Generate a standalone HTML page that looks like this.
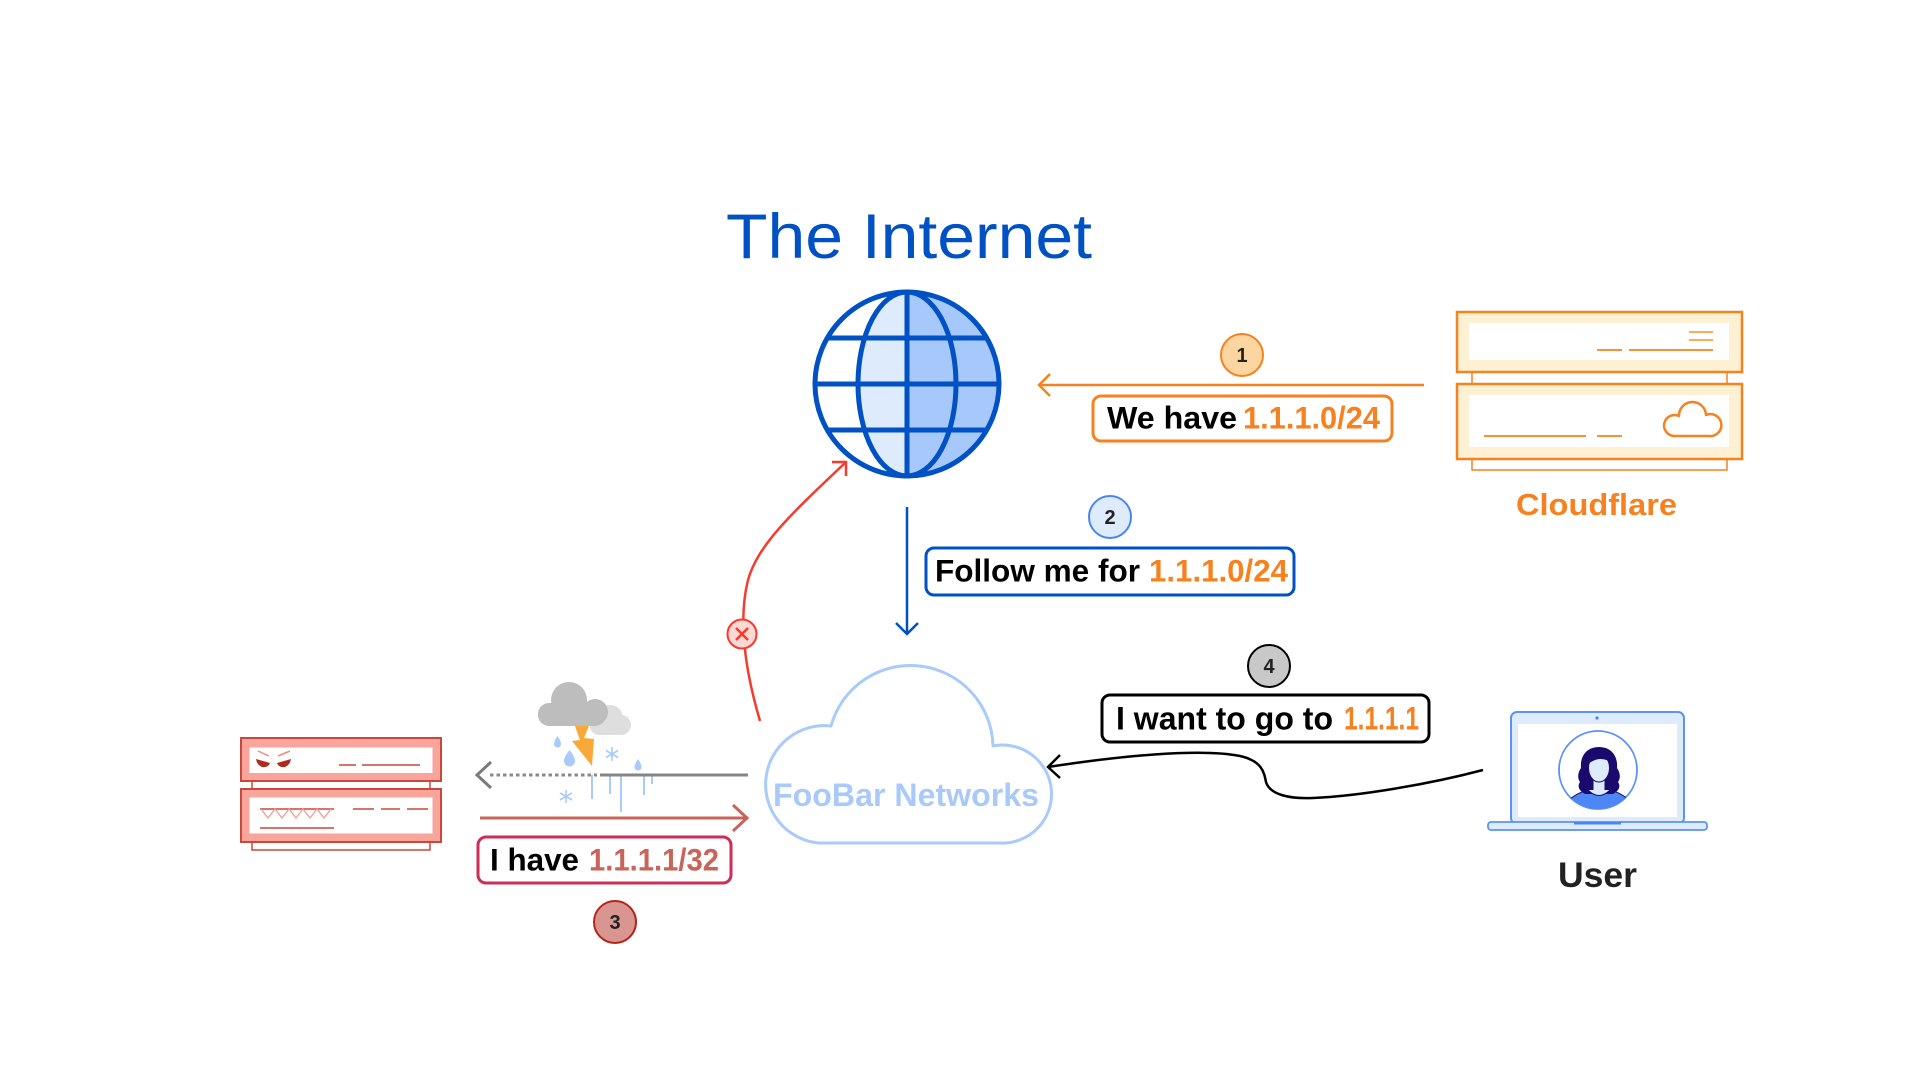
<!DOCTYPE html>
<html><head><meta charset="utf-8"><style>
html,body{margin:0;padding:0;background:#fff;}
svg{display:block;}
text{font-family:"Liberation Sans",Arial,sans-serif;}
</style></head><body>
<svg width="1920" height="1080" viewBox="0 0 1920 1080" xmlns="http://www.w3.org/2000/svg">
<rect width="1920" height="1080" fill="#fff"/>
<defs>
<clipPath id="gc"><circle cx="907" cy="384" r="92"/></clipPath>
<clipPath id="av"><circle cx="1598" cy="770" r="39"/></clipPath>
</defs>

<!-- Title -->
<text x="726" y="258" font-size="63" fill="#0051C3" textLength="366" lengthAdjust="spacingAndGlyphs">The Internet</text>

<!-- Globe -->
<g clip-path="url(#gc)">
<rect x="907" y="290" width="100" height="190" fill="#A6C8FB"/>
<path d="M907,292 A49,92 0 0 0 907,476 Z" fill="#DDEBFD"/>
<line x1="800" y1="338" x2="1010" y2="338" stroke="#0051C3" stroke-width="5"/>
<line x1="800" y1="384" x2="1010" y2="384" stroke="#0051C3" stroke-width="5"/>
<line x1="800" y1="430" x2="1010" y2="430" stroke="#0051C3" stroke-width="5"/>
</g>
<ellipse cx="907" cy="384" rx="49" ry="92" fill="none" stroke="#0051C3" stroke-width="5"/>
<line x1="907" y1="292" x2="907" y2="476" stroke="#0051C3" stroke-width="5"/>
<circle cx="907" cy="384" r="92" fill="none" stroke="#0051C3" stroke-width="5"/>

<!-- Arrow 1 (orange) -->
<line x1="1424" y1="385" x2="1039" y2="385" stroke="#F6821F" stroke-width="2.5"/>
<polyline points="1050,374 1039,385 1050,396" fill="none" stroke="#F6821F" stroke-width="2.5"/>
<circle cx="1242" cy="355" r="21" fill="#FDD5A0" stroke="#F6821F" stroke-width="2"/>
<text x="1242" y="362" font-size="20" font-weight="bold" fill="#222" text-anchor="middle">1</text>
<rect x="1093" y="396" width="299" height="45" rx="8" fill="#fff" stroke="#F6821F" stroke-width="3"/>
<text x="1107" y="428.5" font-size="31.5" font-weight="bold" fill="#000" textLength="130" lengthAdjust="spacingAndGlyphs">We have</text>
<text x="1243" y="428.5" font-size="31.5" font-weight="bold" fill="#F6821F" textLength="137" lengthAdjust="spacingAndGlyphs">1.1.1.0/24</text>

<!-- Cloudflare server -->
<rect x="1472" y="372" width="255" height="12" fill="#fff" stroke="#F6821F" stroke-width="1.5"/>
<rect x="1472" y="458" width="255" height="12" fill="#fff" stroke="#F6821F" stroke-width="1.5"/>
<rect x="1457" y="312" width="285" height="60" fill="#FEF0D3" stroke="#F6821F" stroke-width="2.5"/>
<rect x="1469" y="323" width="260" height="37" fill="#fff"/>
<rect x="1457" y="384" width="285" height="75" fill="#FEF0D3" stroke="#F6821F" stroke-width="2.5"/>
<rect x="1469" y="395" width="260" height="52" fill="#fff"/>
<line x1="1597" y1="350" x2="1622" y2="350" stroke="#F6821F" stroke-width="1.8"/>
<line x1="1629" y1="350" x2="1713" y2="350" stroke="#F6821F" stroke-width="1.8"/>
<line x1="1689" y1="332" x2="1713" y2="332" stroke="#F8A33C" stroke-width="1.8"/>
<line x1="1689" y1="340" x2="1713" y2="340" stroke="#F8A33C" stroke-width="1.8"/>
<line x1="1484" y1="436" x2="1586" y2="436" stroke="#F6821F" stroke-width="1.8"/>
<line x1="1597" y1="436" x2="1622" y2="436" stroke="#F6821F" stroke-width="1.8"/>
<path d="M1674,436 A10.5,10.5 0 1 1 1679,416 A13.5,13.5 0 0 1 1706,415 A11,11 0 1 1 1709,436 Z" fill="none" stroke="#F6821F" stroke-width="2.5" stroke-linejoin="round"/>
<text x="1516" y="515" font-size="31" font-weight="bold" fill="#F6821F" textLength="161" lengthAdjust="spacingAndGlyphs">Cloudflare</text>

<!-- Arrow 2 (blue) -->
<line x1="907" y1="507" x2="907" y2="634" stroke="#0051C3" stroke-width="2.5"/>
<polyline points="896,623 907,634 918,623" fill="none" stroke="#0051C3" stroke-width="2.5"/>
<circle cx="1110" cy="517" r="21" fill="#DDEBFD" stroke="#4A86F0" stroke-width="2"/>
<text x="1110" y="524" font-size="20" font-weight="bold" fill="#222" text-anchor="middle">2</text>
<rect x="926" y="548" width="368" height="47" rx="8" fill="#fff" stroke="#0051C3" stroke-width="3"/>
<text x="935" y="581.7" font-size="31.5" font-weight="bold" fill="#000" textLength="205" lengthAdjust="spacingAndGlyphs">Follow me for</text>
<text x="1149" y="581.7" font-size="31.5" font-weight="bold" fill="#F6821F" textLength="139" lengthAdjust="spacingAndGlyphs">1.1.1.0/24</text>

<!-- Red hijack arrow -->
<path d="M760,721 C745,670 738,620 748,580 C758,545 790,515 846,462" fill="none" stroke="#F63B2C" stroke-width="2.5"/>
<polyline points="832,462 846,462 846,476" fill="none" stroke="#F63B2C" stroke-width="2.5"/>
<circle cx="742" cy="634" r="14.5" fill="#FDD9D6" stroke="#F63B2C" stroke-width="2"/>
<line x1="736" y1="628" x2="748" y2="640" stroke="#F63B2C" stroke-width="2.5"/>
<line x1="748" y1="628" x2="736" y2="640" stroke="#F63B2C" stroke-width="2.5"/>

<!-- FooBar cloud -->
<path d="M818,843 A57,57 0 1 1 831,726 A82.5,82.5 0 0 1 993,746 A49,49 0 1 1 1000,843 Z" fill="#fff" stroke="#A8CBFA" stroke-width="3" stroke-linejoin="round"/>
<text x="773" y="806" font-size="32" font-weight="bold" fill="#A9CAF8" textLength="266" lengthAdjust="spacingAndGlyphs">FooBar Networks</text>

<!-- Arrow 4 (black curve) -->
<path d="M1048,767 C1120,756 1200,748 1240,756 C1262,761 1264,772 1266,782 C1270,795 1290,799 1313,798 C1360,796 1430,784 1483,770" fill="none" stroke="#000" stroke-width="2.5"/>
<polyline points="1060,755 1048,767 1060,778" fill="none" stroke="#000" stroke-width="2.5"/>
<circle cx="1269" cy="666" r="21" fill="#C8C8C8" stroke="#000" stroke-width="2"/>
<text x="1269" y="673" font-size="20" font-weight="bold" fill="#222" text-anchor="middle">4</text>
<rect x="1102" y="695" width="327" height="47" rx="8" fill="#fff" stroke="#000" stroke-width="3"/>
<text x="1116" y="729.3" font-size="32" font-weight="bold" fill="#000" textLength="217" lengthAdjust="spacingAndGlyphs">I want to go to</text>
<text x="1344" y="729.3" font-size="32" font-weight="bold" fill="#F6821F" textLength="75" lengthAdjust="spacingAndGlyphs">1.1.1.1</text>

<!-- User laptop -->
<rect x="1511" y="712" width="173" height="112" rx="6" fill="#DDEBFD" stroke="#5A92F5" stroke-width="2"/>
<rect x="1518" y="724" width="159" height="93" fill="#fff"/>
<circle cx="1597" cy="718" r="1.6" fill="#4A86F0"/>
<rect x="1488" y="822" width="219" height="8" rx="3" fill="#DDEBFD" stroke="#5A92F5" stroke-width="1.8"/>
<rect x="1574" y="822" width="47" height="2.5" fill="#4A86F0"/>
<circle cx="1598" cy="770" r="39" fill="#fff" stroke="#5A92F5" stroke-width="1.8"/>
<g clip-path="url(#av)">
<path d="M1560,815 Q1566,796 1588,790 L1610,790 Q1632,796 1638,815 Z" fill="#4D86F5" stroke="#1B0A6E" stroke-width="1"/>
<path d="M1599,747 C1586,747 1580,757 1581,768 C1578,772 1577,778 1580,782 C1577,786 1579,791 1585,794 L1613,794 C1619,791 1621,786 1618,782 C1621,778 1620,772 1617,768 C1618,757 1612,747 1599,747 Z" fill="#1B0A6E"/>
<rect x="1593" y="778" width="12" height="14" fill="#DDEBFD" stroke="#1B0A6E" stroke-width="1"/>
<path d="M1588,790 Q1599,801 1610,790" fill="#DDEBFD" stroke="#1B0A6E" stroke-width="1"/>
<ellipse cx="1599" cy="768" rx="10.5" ry="14" fill="#DDEBFD" stroke="#1B0A6E" stroke-width="1"/>
<path d="M1587,765 C1589,752 1608,749 1611,762 C1604,758 1596,757 1587,765 Z" fill="#1B0A6E"/>
</g>
<text x="1558" y="887" font-size="35" font-weight="bold" fill="#222" textLength="79" lengthAdjust="spacingAndGlyphs">User</text>

<!-- Red (malicious) server -->
<rect x="252" y="781" width="178" height="8" fill="#fff" stroke="#C9473D" stroke-width="1.5"/>
<rect x="252" y="842" width="178" height="8" fill="#fff" stroke="#C9473D" stroke-width="1.5"/>
<rect x="241" y="738" width="200" height="43" fill="#FAA59C" stroke="#C9473D" stroke-width="2"/>
<rect x="249.5" y="747.5" width="183" height="25.5" fill="#fff"/>
<rect x="241" y="789" width="200" height="53" fill="#FAA59C" stroke="#C9473D" stroke-width="2"/>
<rect x="249.5" y="797.5" width="183" height="36" fill="#fff"/>
<path d="M256,759 L270,763 Q268,768 262,767 Q257,765 256,759 Z" fill="#B22A1F"/>
<path d="M291,759 L277,763 Q279,768 285,767 Q290,765 291,759 Z" fill="#B22A1F"/>
<line x1="258" y1="751" x2="269" y2="756" stroke="#F08A80" stroke-width="1.5"/>
<line x1="290" y1="751" x2="278" y2="756" stroke="#F08A80" stroke-width="1.5"/>
<line x1="339" y1="765" x2="356" y2="765" stroke="#C9473D" stroke-width="1.5"/>
<line x1="362" y1="765" x2="420" y2="765" stroke="#C9473D" stroke-width="1.5"/>
<line x1="260" y1="809" x2="334" y2="809" stroke="#C9473D" stroke-width="1.5"/>
<polyline points="261,809 268,818 275,809 282,818 289,809 296,818 303,809 310,818 317,809 324,818 331,809" fill="none" stroke="#F59A92" stroke-width="1.3"/>
<line x1="260" y1="828" x2="334" y2="828" stroke="#C9473D" stroke-width="1.5"/>
<line x1="353" y1="809" x2="374" y2="809" stroke="#C9473D" stroke-width="1.5"/>
<line x1="381" y1="809" x2="400" y2="809" stroke="#C9473D" stroke-width="1.5"/>
<line x1="407" y1="809" x2="428" y2="809" stroke="#C9473D" stroke-width="1.5"/>

<!-- Weather icon -->
<g>
<circle cx="610" cy="718" r="13" fill="#DEDEDE"/>
<circle cx="621" cy="725" r="10" fill="#DEDEDE"/>
<rect x="590" y="716" width="40" height="19" rx="9" fill="#DEDEDE"/>
<circle cx="569" cy="700" r="18" fill="#BDBDBD"/>
<circle cx="595" cy="712" r="13" fill="#BDBDBD"/>
<rect x="538" y="703" width="68" height="23" rx="11" fill="#BDBDBD"/>
<path d="M575,726 L589,726 L584,738 L594,739 L592,766 L572,741 L580,740 Z" fill="#F8A93A"/>
<path d="M557.5,736 Q561,741 561,744 A3.5,3.5 0 0 1 554,744 Q554,741 557.5,736 Z" fill="#A8CBFA"/>
<path d="M569.5,750 Q575,757 575,761 A5.5,5.5 0 0 1 564,761 Q564,757 569.5,750 Z" fill="#A8CBFA"/>
<path d="M638,759 Q641.5,764 641.5,767 A3.5,3.5 0 0 1 634.5,767 Q634.5,764 638,759 Z" fill="#A8CBFA"/>
<g stroke="#A8CBFA" stroke-width="1.6">
<line x1="612" y1="747" x2="612" y2="761"/><line x1="606" y1="750.5" x2="618" y2="757.5"/><line x1="606" y1="757.5" x2="618" y2="750.5"/>
<line x1="566" y1="790" x2="566" y2="803"/><line x1="560" y1="793" x2="572" y2="800"/><line x1="560" y1="800" x2="572" y2="793"/>
</g>
<g stroke="#A8CBFA" stroke-width="2">
<line x1="592" y1="775" x2="592" y2="799"/>
<line x1="610" y1="775" x2="610" y2="794"/>
<line x1="621" y1="775" x2="621" y2="812"/>
<line x1="644" y1="775" x2="644" y2="795"/>
<line x1="652" y1="775" x2="652" y2="784"/>
</g>
</g>

<!-- Grey arrow (failing) -->
<line x1="490" y1="775" x2="597" y2="775" stroke="#8A8A8A" stroke-width="3" stroke-dasharray="3.5 3"/>
<line x1="600" y1="775" x2="748" y2="775" stroke="#858585" stroke-width="3"/>
<polyline points="491,762 477,775 491,788" fill="none" stroke="#7A7A7A" stroke-width="3"/>

<!-- Red-brown arrow 3 -->
<line x1="480" y1="818" x2="747" y2="818" stroke="#C9645A" stroke-width="3"/>
<polyline points="733,805 747,818 733,831" fill="none" stroke="#C9645A" stroke-width="3"/>
<rect x="478" y="837" width="253" height="46" rx="8" fill="#fff" stroke="#CF2D55" stroke-width="3"/>
<text x="490" y="870.7" font-size="31.5" font-weight="bold" fill="#000" textLength="89" lengthAdjust="spacingAndGlyphs">I have</text>
<text x="589" y="870.7" font-size="31.5" font-weight="bold" fill="#C9645A" textLength="130" lengthAdjust="spacingAndGlyphs">1.1.1.1/32</text>
<circle cx="615" cy="922" r="21" fill="#D9958F" stroke="#B4241B" stroke-width="2"/>
<text x="615" y="929" font-size="20" font-weight="bold" fill="#222" text-anchor="middle">3</text>
</svg>
</body></html>
